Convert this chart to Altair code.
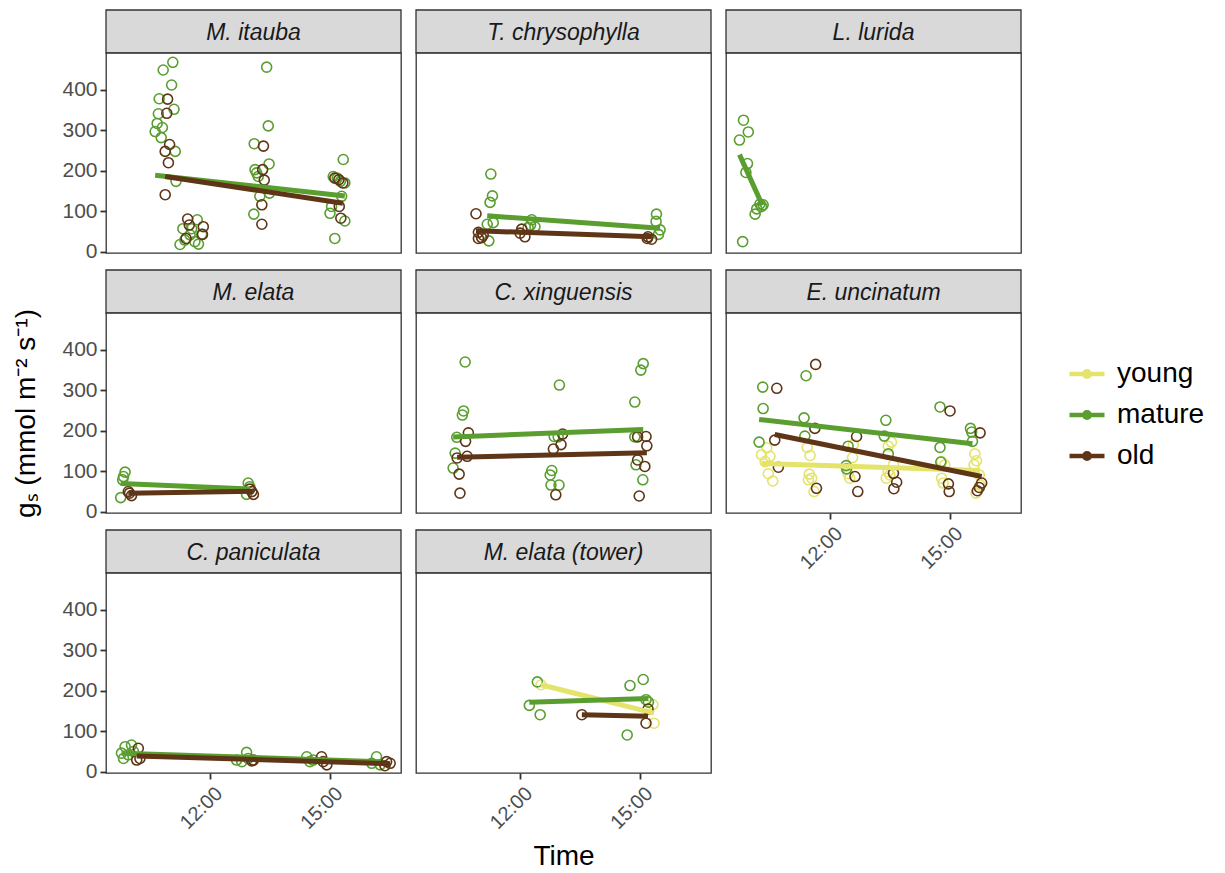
import altair as alt
import pandas as pd

AGES = ["young", "mature", "old"]
AGE_COLORS = ["#E4E36C", "#5A9E30", "#5E3516"]
X_TICKS = [12, 15]
Y_TICKS = [0, 100, 200, 300, 400]
X_DOMAIN = [9.414, 16.77]
Y_DOMAIN = [-3, 491]

# ---- observed points (time in hours, gs) ----
ITAUBA_MATURE_T = [11.08, 10.84, 11.05, 10.74, 11.11, 10.72, 10.69, 10.82, 10.64, 10.79, 11.14, 11.16,
                   13.42, 13.46, 13.11, 13.13, 13.17, 13.21, 13.48, 13.25, 13.49, 13.10,
                   15.33, 15.08, 15.18, 15.26, 15.37, 15.04, 15.00, 15.29, 15.12, 15.37,
                   11.26, 11.38, 11.51, 11.63, 11.69, 11.72, 11.33, 11.55, 11.80]
ITAUBA_MATURE_GS = [468, 449, 412, 378, 352, 341, 317, 307, 297, 282, 248, 174,
                    456, 311, 267, 203, 195, 186, 217, 137, 145, 93,
                    228, 186, 182, 174, 170, 112, 95, 137, 33, 76,
                    18, 29, 42, 25, 79, 19, 57, 57, 43]
ITAUBA_OLD_T = [10.95, 10.93, 11.00, 10.89, 10.97, 10.89, 13.34, 13.32, 13.36, 13.30, 13.30,
                15.12, 15.22, 15.32, 15.23, 15.27, 11.45, 11.49, 11.84, 11.82, 11.41]
ITAUBA_OLD_GS = [377, 342, 265, 248, 220, 141, 261, 203, 177, 116, 68,
                 182, 178, 170, 112, 83, 81, 66, 62, 43, 33]

CHRYSO_MATURE_T = [11.28, 11.32, 11.26, 11.19, 11.34, 11.23, 12.30, 12.38, 12.21, 12.27, 15.41, 15.40, 15.50, 15.46]
CHRYSO_MATURE_GS = [192, 138, 122, 68, 72, 27, 79, 62, 60, 66, 93, 75, 54, 43]
CHRYSO_OLD_T = [10.91, 10.97, 11.05, 10.97, 11.09, 12.05, 12.13, 12.01, 15.20, 15.29, 15.18]
CHRYSO_OLD_GS = [94, 48, 35, 33, 41, 56, 37, 46, 37, 31, 33]

LURIDA_MATURE_T = [9.85, 9.97, 9.75, 9.95, 9.91, 10.26, 10.18, 10.14, 10.30, 10.34, 9.83]
LURIDA_MATURE_GS = [325, 296, 276, 218, 196, 118, 106, 93, 112, 116, 25]

ELATA_MATURE_T = [9.89, 9.85, 9.83, 9.78, 12.96, 12.92, 13.00]
ELATA_MATURE_GS = [98, 87, 79, 35, 71, 43, 62]
ELATA_OLD_T = [10.00, 10.05, 9.97, 13.05, 13.09, 13.00]
ELATA_OLD_GS = [46, 40, 50, 50, 43, 56]

XING_MATURE_T = [10.64, 10.60, 10.57, 10.43, 10.39, 10.34, 12.99, 12.86, 12.96, 12.80, 12.76, 12.78, 12.98,
                 15.08, 15.02, 14.87, 14.87, 14.90, 15.07]
XING_MATURE_GS = [370, 249, 239, 184, 145, 108, 313, 186, 185, 102, 91, 66, 66, 366, 350, 271, 185, 116, 79]
XING_OLD_T = [10.72, 10.65, 10.69, 10.44, 10.49, 10.51, 13.07, 13.03, 12.84, 12.90, 14.94, 15.15, 15.17, 14.94, 15.12, 14.98]
XING_OLD_GS = [195, 174, 137, 133, 93, 46, 192, 166, 155, 42, 185, 186, 163, 128, 112, 39]

UNC_YOUNG_T = [10.43, 10.30, 10.51, 10.39, 10.47, 10.58, 11.44, 11.51, 11.49, 11.55, 11.61, 11.47,
               12.59, 12.57, 12.50, 12.46, 13.54, 13.46, 13.46, 13.50, 13.41, 13.59,
               14.79, 14.87, 14.79, 14.83, 15.62, 15.66, 15.60, 15.73, 15.65, 15.75]
UNC_YOUNG_GS = [158, 141, 137, 124, 94, 76, 159, 139, 93, 83, 50, 79,
                166, 134, 83, 94, 172, 162, 99, 91, 83, 116,
                124, 116, 83, 71, 143, 126, 116, 91, 46, 66]
UNC_MATURE_T = [10.33, 10.34, 10.24, 11.41, 11.36, 11.38, 12.46, 12.41, 12.42, 13.40, 13.36, 13.46,
                14.75, 14.75, 14.77, 15.51, 15.54, 15.56]
UNC_MATURE_GS = [308, 255, 172, 336, 232, 187, 162, 114, 106, 226, 187, 143, 259, 159, 123, 206, 197, 174]
UNC_OLD_T = [10.68, 10.63, 10.72, 11.65, 11.63, 11.67, 12.67, 12.63, 12.70, 13.59, 13.67, 13.60,
             15.00, 14.96, 14.98, 15.75, 15.79, 15.73, 15.68]
UNC_OLD_GS = [305, 177, 110, 364, 206, 58, 186, 87, 50, 95, 73, 57, 249, 69, 50, 195, 71, 60, 52]

PAN_MATURE_T = [9.89, 10.05, 9.80, 9.97, 9.85, 10.10, 12.92, 12.67, 12.80, 12.96, 14.42, 14.58, 14.50, 16.16, 16.04, 16.25]
PAN_MATURE_GS = [62, 66, 46, 42, 33, 50, 48, 29, 25, 33, 37, 29, 25, 37, 21, 17]
PAN_OLD_T = [10.22, 10.18, 10.26, 13.05, 13.09, 14.79, 14.92, 14.83, 16.41, 16.50, 16.37]
PAN_OLD_GS = [58, 29, 33, 27, 29, 37, 17, 25, 25, 21, 15]

TOWER_YOUNG_T = [12.53, 15.32, 15.35]
TOWER_YOUNG_GS = [215, 166, 120]
TOWER_MATURE_T = [12.44, 12.24, 12.51, 14.75, 15.08, 15.15, 15.21, 14.68]
TOWER_MATURE_GS = [222, 164, 141, 213, 228, 178, 172, 91]
TOWER_OLD_T = [13.55, 15.15, 15.20]
TOWER_OLD_GS = [141, 120, 155]

POINT_SETS = [
    ("M. itauba", "mature", ITAUBA_MATURE_T, ITAUBA_MATURE_GS),
    ("M. itauba", "old", ITAUBA_OLD_T, ITAUBA_OLD_GS),
    ("T. chrysophylla", "mature", CHRYSO_MATURE_T, CHRYSO_MATURE_GS),
    ("T. chrysophylla", "old", CHRYSO_OLD_T, CHRYSO_OLD_GS),
    ("L. lurida", "mature", LURIDA_MATURE_T, LURIDA_MATURE_GS),
    ("M. elata", "mature", ELATA_MATURE_T, ELATA_MATURE_GS),
    ("M. elata", "old", ELATA_OLD_T, ELATA_OLD_GS),
    ("C. xinguensis", "mature", XING_MATURE_T, XING_MATURE_GS),
    ("C. xinguensis", "old", XING_OLD_T, XING_OLD_GS),
    ("E. uncinatum", "young", UNC_YOUNG_T, UNC_YOUNG_GS),
    ("E. uncinatum", "mature", UNC_MATURE_T, UNC_MATURE_GS),
    ("E. uncinatum", "old", UNC_OLD_T, UNC_OLD_GS),
    ("C. paniculata", "mature", PAN_MATURE_T, PAN_MATURE_GS),
    ("C. paniculata", "old", PAN_OLD_T, PAN_OLD_GS),
    ("M. elata (tower)", "young", TOWER_YOUNG_T, TOWER_YOUNG_GS),
    ("M. elata (tower)", "mature", TOWER_MATURE_T, TOWER_MATURE_GS),
    ("M. elata (tower)", "old", TOWER_OLD_T, TOWER_OLD_GS),
]

# ---- fitted lines (start/end) ----
FIT_SPECIES = ["M. itauba", "M. itauba", "T. chrysophylla", "T. chrysophylla", "L. lurida",
               "M. elata", "M. elata", "C. xinguensis", "C. xinguensis",
               "E. uncinatum", "E. uncinatum", "E. uncinatum",
               "C. paniculata", "C. paniculata",
               "M. elata (tower)", "M. elata (tower)", "M. elata (tower)"]
FIT_AGE = ["mature", "old", "mature", "old", "mature",
           "mature", "old", "mature", "old",
           "young", "mature", "old",
           "mature", "old",
           "young", "mature", "old"]
FIT_T0 = [10.64, 10.89, 11.19, 10.91, 9.75, 9.78, 9.97, 10.34, 10.44, 10.30, 10.24, 10.63, 9.80, 10.18, 12.53, 12.24, 13.55]
FIT_T1 = [15.37, 15.32, 15.50, 15.29, 10.32, 13.00, 13.09, 15.08, 15.17, 15.75, 15.56, 15.79, 16.25, 16.50, 15.35, 15.21, 15.20]
FIT_G0 = [189, 186, 89, 52, 240, 70, 46, 185, 135, 119, 228, 191, 46, 39, 215, 172, 141]
FIT_G1 = [138, 120, 58, 37, 115, 56, 51, 203, 146, 102, 168, 87, 25, 20, 145, 181, 137]

rows = []
for sp, age, ts, gs in POINT_SETS:
    for t, g in zip(ts, gs):
        rows.append({"species": sp, "age": age, "time": t, "gs": g, "order": AGES.index(age)})
points_df = pd.DataFrame(rows).sort_values("order", kind="stable")

lrows = []
for i, (sp, age) in enumerate(zip(FIT_SPECIES, FIT_AGE)):
    lrows.append({"species": sp, "age": age, "time": FIT_T0[i], "gs": FIT_G0[i], "fit": i})
    lrows.append({"species": sp, "age": age, "time": FIT_T1[i], "gs": FIT_G1[i], "fit": i})
lines_df = pd.DataFrame(lrows)

W, PH, SH, GAP = 295, 200, 43, 17
FONT = "Liberation Sans"
LEGEND_PATH = "M-1,0H1M0.16,0A0.16,0.16,0,1,1,-0.16,0A0.16,0.16,0,1,1,0.16,0"
CLEAR = alt.ViewBackground(fill="transparent", stroke="transparent")

LEGEND = alt.Legend(
    title=None, orient="none", legendX=961, legendY=344,
    symbolType=LEGEND_PATH, symbolSize=1225, symbolStrokeWidth=4.5,
    labelFontSize=28, labelFont=FONT, labelColor="black", labelOffset=10,
    rowPadding=7, padding=0,
)


def plot(sp, show_y=False, show_x=False, y_title=None, x_title=None):
    pts = points_df[points_df.species == sp]
    fits = lines_df[lines_df.species == sp]
    if show_x:
        xaxis = alt.Axis(values=X_TICKS, labelExpr="datum.value + ':00'", labelAngle=315,
                         labelAlign="right", labelBaseline="top", labelOffset=2, labelPadding=4,
                         labelFontSize=20, title=x_title, titlePadding=10)
    else:
        xaxis = None
    if show_y:
        yaxis = alt.Axis(values=Y_TICKS, title=y_title, labelPadding=3, titlePadding=21)
    else:
        yaxis = None
    x = alt.X("time:Q", scale=alt.Scale(domain=X_DOMAIN, nice=False, zero=False), axis=xaxis)
    y = alt.Y("gs:Q", scale=alt.Scale(domain=Y_DOMAIN, nice=False, zero=False), axis=yaxis)
    color = alt.Color("age:N", scale=alt.Scale(domain=AGES, range=AGE_COLORS), legend=LEGEND)
    layers = [alt.Chart(pts).mark_point(shape="circle", filled=False, size=100, strokeWidth=1.6, opacity=1)
              .encode(x=x, y=y, color=color)]
    for age in AGES:
        sub = fits[fits.age == age]
        if len(sub):
            layers.append(alt.Chart(sub).mark_line(strokeWidth=5).encode(x=x, y=y, color=color, detail="fit:N"))
    return alt.layer(*layers).properties(width=W, height=PH)


def strip(sp, gap):
    base = alt.Chart(pd.DataFrame({"label": [sp]}))
    box = base.mark_rect(fill="#D9D9D9", stroke="#333333", strokeWidth=1.3).encode(
        x=alt.value(0), x2=alt.value(W), y=alt.value(gap), y2=alt.value(gap + SH))
    txt = base.mark_text(font=FONT, fontSize=23, fontStyle="italic", color="#1A1A1A",
                         baseline="middle", align="center").encode(
        text="label:N", x=alt.value(W / 2), y=alt.value(gap + SH / 2 + 1))
    return alt.layer(box, txt).properties(width=W, height=SH + gap, view=CLEAR)


def blank(h):
    return (alt.Chart(pd.DataFrame({"label": [""]})).mark_text()
            .encode(text="label:N", x=alt.value(0), y=alt.value(0))
            .properties(width=W, height=h, view=CLEAR))


YT = "g\u209b (mmol m\u207b\u00b2 s\u207b\u00b9)"

cells = [
    strip("M. itauba", 0), strip("T. chrysophylla", 0), strip("L. lurida", 0),
    plot("M. itauba", show_y=True), plot("T. chrysophylla"), plot("L. lurida"),
    strip("M. elata", GAP), strip("C. xinguensis", GAP), strip("E. uncinatum", GAP),
    plot("M. elata", show_y=True, y_title=YT), plot("C. xinguensis"), plot("E. uncinatum", show_x=True),
    strip("C. paniculata", GAP), strip("M. elata (tower)", GAP), blank(SH + GAP),
    plot("C. paniculata", show_y=True, show_x=True), plot("M. elata (tower)", show_x=True, x_title="Time"),
]

chart = (alt.concat(*cells, columns=3, spacing={"row": 0, "column": 15}, bounds="flush")
         .properties(padding={"left": 4, "top": 0, "right": 5, "bottom": 0})
         .configure_view(stroke="#333333", strokeWidth=1.3, fill="white")
         .configure_axis(domain=False, grid=False, tickColor="#333333", tickWidth=1.8, tickSize=6,
                         labelFont=FONT, labelFontSize=21, labelColor="#4D4D4D",
                         titleFont=FONT, titleFontSize=28, titleFontWeight="normal", titleColor="black")
         )

chart.save("out.html", embed_options={"renderer": "svg", "actions": False})
